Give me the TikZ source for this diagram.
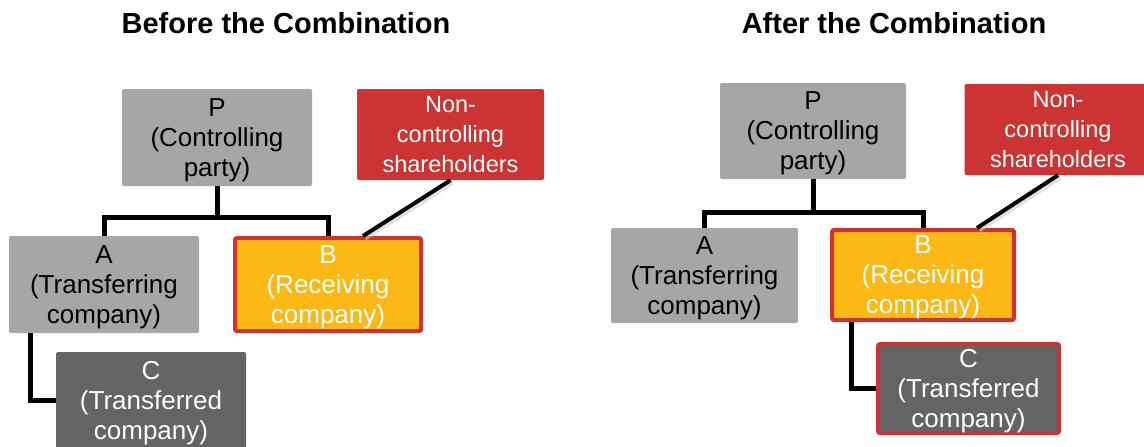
\documentclass[tikz,border=0pt]{standalone}
\usepackage{fontspec}
\setmainfont{Liberation Sans}
\definecolor{boxgray}{HTML}{A6A6A6}
\definecolor{darkbox}{HTML}{646464}
\definecolor{ncred}{HTML}{CC3333}
\definecolor{recyellow}{HTML}{FCB814}
\tikzset{
  box/.style={rectangle, rounded corners=2pt, inner sep=0pt, align=center,
    text depth=0pt, font=\fontsize{26}{30}\selectfont},
  gbox/.style={box, fill=boxgray, text=black},
  ncbox/.style={box, fill=ncred, text=white, font=\fontsize{23.5}{30}\selectfont},
  ybox/.style={box, fill=recyellow, draw=ncred, line width=4pt, text=white},
  dbox/.style={box, fill=darkbox, text=white},
  dboxr/.style={box, fill=darkbox, draw=ncred, line width=4pt, text=white},
  conn/.style={draw=black, line width=5pt, line join=miter},
  diag/.style={draw=black, line width=4pt},
  shadowline/.style={draw=black!20, line width=5pt, opacity=0.6},
  title/.style={font=\fontsize{29}{33}\selectfont\bfseries, anchor=base}
}
\begin{document}
\begin{tikzpicture}[x=1pt,y=-1pt]
\useasboundingbox (0,0) rectangle (1144,447);
\clip (0,0) rectangle (1144,447);

% titles
\node[title] (T1) at (286,33) {Before the Combination};
\node[title] (T2) at (894,33) {After the Combination};

% ---- Before ----
\node[gbox, minimum width=190pt, minimum height=97pt] (LP) at (217,137.5) {P\\(Controlling\\party)};
\node[ncbox, minimum width=187pt, minimum height=91pt] (LN) at (450.5,134.5) {Non-\\controlling\\shareholders};
\node[gbox, minimum width=190pt, minimum height=97pt] (LA) at (104,284.5) {A\\(Transferring\\company)};
\node[ybox, minimum width=186pt, minimum height=93pt] (LB) at (328,284.5) {B\\(Receiving\\company)};
\node[dbox, minimum width=190pt, minimum height=97pt] (LC) at (151,400.5) {C\\(Transferred\\company)};

\coordinate (LJ) at (217,217);
\draw[conn] (LP.south) -- (LJ);
\draw[conn] (LA.north) |- (LJ) -| (LB.north);
\draw[conn] ([xshift=22pt]LA.south west) |- (LC.west);
\draw[shadowline] ([xshift=2pt,yshift=-2pt]LN.south) -- ([xshift=37pt,yshift=-2pt]LB.north);
\draw[diag] (LN.south) -- ([xshift=35pt]LB.north);

% ---- After ----
\node[gbox, minimum width=186pt, minimum height=96pt] (RP) at (813,131) {P\\(Controlling\\party)};
\node[ncbox, minimum width=187pt, minimum height=91pt] (RN) at (1058,129.5) {Non-\\controlling\\shareholders};
\node[gbox, minimum width=187pt, minimum height=95pt] (RA) at (704.5,275.5) {A\\(Transferring\\company)};
\node[ybox, minimum width=182pt, minimum height=90pt] (RB) at (923,275) {B\\(Receiving\\company)};
\node[dboxr, minimum width=181pt, minimum height=89pt] (RC) at (968.5,388.5) {C\\(Transferred\\company)};

\coordinate (RJ) at (813,212);
\draw[conn] (RP.south) -- (RJ);
\draw[conn] (RA.north) |- (RJ) -| (RB.north);
\draw[conn] ([xshift=21pt]RB.south west) |- (RC.west);
\draw[shadowline] ([xshift=2pt,yshift=-2pt]RN.south) -- ([xshift=56pt,yshift=-2pt]RB.north);
\draw[diag] (RN.south) -- ([xshift=54pt]RB.north);
\end{tikzpicture}
\end{document}
